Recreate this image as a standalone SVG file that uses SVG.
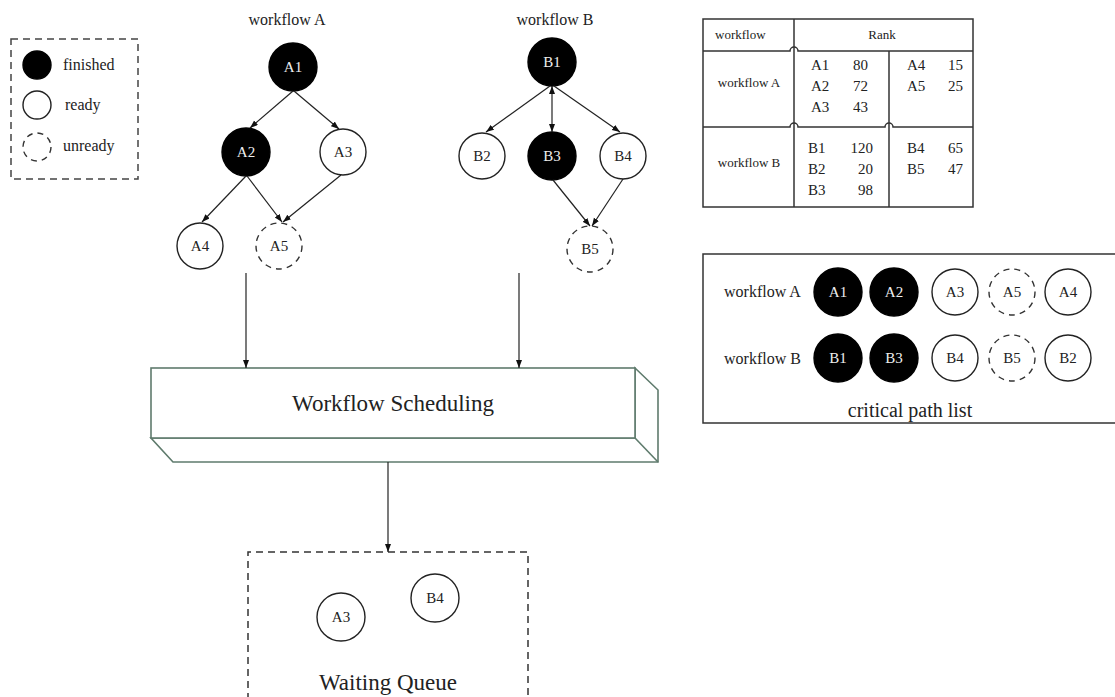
<svg xmlns="http://www.w3.org/2000/svg" width="1115" height="697" viewBox="0 0 1115 697">
<defs>
<marker id="arr" markerUnits="userSpaceOnUse" markerWidth="9" markerHeight="7" refX="8" refY="3" orient="auto-start-reverse" viewBox="0 0 9 7">
<path d="M0,0 L8,3 L0,6 z" fill="#111"/>
</marker>
</defs>
<style>
text{font-family:"Liberation Serif","Times New Roman",serif;fill:#222}
.n{stroke:#222;stroke-width:1.4;fill:#fff}
.f{fill:#000;stroke:#000;stroke-width:1.4}
.d{stroke:#333;stroke-width:1.4;fill:#fff;stroke-dasharray:6 5}
.lbl{font-size:15px;text-anchor:middle}
.wl{fill:#eee}
.e{stroke:#222;stroke-width:1.2;fill:none;marker-end:url(#arr)}
.g{stroke:#5f7b6d;stroke-width:1.6;fill:#fff}
.t{stroke:#333;stroke-width:1.5;fill:none}
</style>
<rect width="1115" height="697" fill="#fff"/>

<g id="legend">
<rect x="11" y="39" width="127" height="140" fill="none" stroke="#444" stroke-width="1.5" stroke-dasharray="7 5"/>
<circle class="f" cx="37" cy="65" r="14"/>
<circle class="n" cx="37" cy="105" r="14"/>
<circle class="d" cx="37" cy="147" r="14" stroke-dasharray="5 4"/>
<text x="63" y="70" font-size="16">finished</text>
<text x="65" y="110" font-size="16">ready</text>
<text x="63" y="151" font-size="16">unready</text>
</g>

<text x="287" y="25" font-size="16" text-anchor="middle">workflow A</text>
<text x="555" y="25" font-size="16" text-anchor="middle">workflow B</text>

<g id="A1"><circle class="f" cx="293" cy="67" r="24"/><text class="lbl wl" x="293" y="72">A1</text></g>
<g id="A2"><circle class="f" cx="246" cy="152" r="24"/><text class="lbl wl" x="246" y="157">A2</text></g>
<g id="A3"><circle class="n" cx="343" cy="152" r="23"/><text class="lbl" x="343" y="157">A3</text></g>
<g id="A4"><circle class="n" cx="200" cy="246" r="23"/><text class="lbl" x="200" y="251">A4</text></g>
<g id="A5"><circle class="d" cx="279" cy="246" r="23"/><text class="lbl" x="279" y="251">A5</text></g>

<g id="B1"><circle class="f" cx="552" cy="62" r="24"/><text class="lbl wl" x="552" y="67">B1</text></g>
<g id="B2"><circle class="n" cx="482" cy="156" r="23"/><text class="lbl" x="482" y="161">B2</text></g>
<g id="B3"><circle class="f" cx="552" cy="156" r="24"/><text class="lbl wl" x="552" y="161">B3</text></g>
<g id="B4"><circle class="n" cx="623" cy="156" r="23"/><text class="lbl" x="623" y="161">B4</text></g>
<g id="B5"><circle class="d" cx="590" cy="249" r="23"/><text class="lbl" x="590" y="254">B5</text></g>

<g id="scheduling">
<polygon class="g" points="635,368 658,390 658,462 173,462 151,438 635,438"/>
<line x1="635" y1="438" x2="658" y2="462" stroke="#5f7b6d" stroke-width="1.6"/>
<rect class="g" x="151" y="368" width="484" height="70"/>
<text x="393" y="411" font-size="23" text-anchor="middle">Workflow Scheduling</text>
</g>

<g id="queue">
<path d="M248,700 L248,552 L528,552 L528,700" fill="none" stroke="#333" stroke-width="1.5" stroke-dasharray="7 5"/>
<circle class="n" cx="341" cy="617" r="24"/><text class="lbl" x="341" y="622">A3</text>
<circle class="n" cx="435" cy="598" r="24"/><text class="lbl" x="435" y="603">B4</text>
<text x="388" y="690" font-size="23" text-anchor="middle">Waiting Queue</text>
</g>

<g id="rank-table">
<rect x="703" y="19" width="270" height="188" class="t"/>
<line class="t" x1="794" y1="19" x2="794" y2="207"/>
<line class="t" x1="889" y1="51" x2="889" y2="207"/>
<path class="t" d="M703,51 L790,51 A4,4 0 0 1 798,51 L973,51"/>
<path class="t" d="M703,127 L790,127 A4,4 0 0 1 798,127 L885,127 A4,4 0 0 1 893,127 L973,127"/>
<text x="715" y="39" font-size="13">workflow</text>
<text x="882" y="39" font-size="13" text-anchor="middle">Rank</text>
<text x="749" y="87" font-size="13" text-anchor="middle">workflow A</text>
<text x="749" y="167" font-size="13" text-anchor="middle">workflow B</text>
<g font-size="15">
<text x="811" y="70">A1</text><text x="853" y="70">80</text>
<text x="811" y="91">A2</text><text x="853" y="91">72</text>
<text x="811" y="112">A3</text><text x="853" y="112">43</text>
<text x="907" y="70">A4</text><text x="963" y="70" text-anchor="end">15</text>
<text x="907" y="91">A5</text><text x="963" y="91" text-anchor="end">25</text>
<text x="808" y="153">B1</text><text x="873" y="153" text-anchor="end">120</text>
<text x="808" y="174">B2</text><text x="873" y="174" text-anchor="end">20</text>
<text x="808" y="195">B3</text><text x="873" y="195" text-anchor="end">98</text>
<text x="907" y="153">B4</text><text x="963" y="153" text-anchor="end">65</text>
<text x="907" y="174">B5</text><text x="963" y="174" text-anchor="end">47</text>
</g>
</g>

<g id="critical-path">
<path d="M1120,254 L703,254 L703,423 L1120,423" fill="none" stroke="#333" stroke-width="1.5"/>
<text x="724" y="297" font-size="16">workflow A</text>
<text x="724" y="364" font-size="16">workflow B</text>
<circle class="f" cx="838" cy="292" r="24"/><text class="lbl wl" x="838" y="297">A1</text>
<circle class="f" cx="894" cy="292" r="24"/><text class="lbl wl" x="894" y="297">A2</text>
<circle class="n" cx="955" cy="292" r="23"/><text class="lbl" x="955" y="297">A3</text>
<circle class="d" cx="1012" cy="292" r="23"/><text class="lbl" x="1012" y="297">A5</text>
<circle class="n" cx="1068" cy="292" r="23"/><text class="lbl" x="1068" y="297">A4</text>
<circle class="f" cx="838" cy="358" r="24"/><text class="lbl wl" x="838" y="363">B1</text>
<circle class="f" cx="894" cy="358" r="24"/><text class="lbl wl" x="894" y="363">B3</text>
<circle class="n" cx="955" cy="358" r="23"/><text class="lbl" x="955" y="363">B4</text>
<circle class="d" cx="1012" cy="358" r="23"/><text class="lbl" x="1012" y="363">B5</text>
<circle class="n" cx="1068" cy="358" r="23"/><text class="lbl" x="1068" y="363">B2</text>
<text x="910" y="417" font-size="20" text-anchor="middle">critical path list</text>
</g>

<g id="connectors">
<path class="e" d="M293,91 L250,128"/>
<path class="e" d="M294,91 L339,129"/>
<path class="e" d="M246,176 L202,222"/>
<path class="e" d="M247,176 L282,222"/>
<path class="e" d="M341,175 L283,222"/>
<path class="e" d="M550,86 L486,132"/>
<path class="e" d="M552,86 L552,132" marker-start="url(#arr)"/>
<path class="e" d="M554,86 L620,132"/>
<path class="e" d="M553,180 L590,226"/>
<path class="e" d="M623,179 L592,226"/>
<path class="e" d="M246,273 L246,368"/>
<path class="e" d="M519,273 L519,368"/>
<path class="e" d="M388,462 L388,552"/>
</g>
</svg>
